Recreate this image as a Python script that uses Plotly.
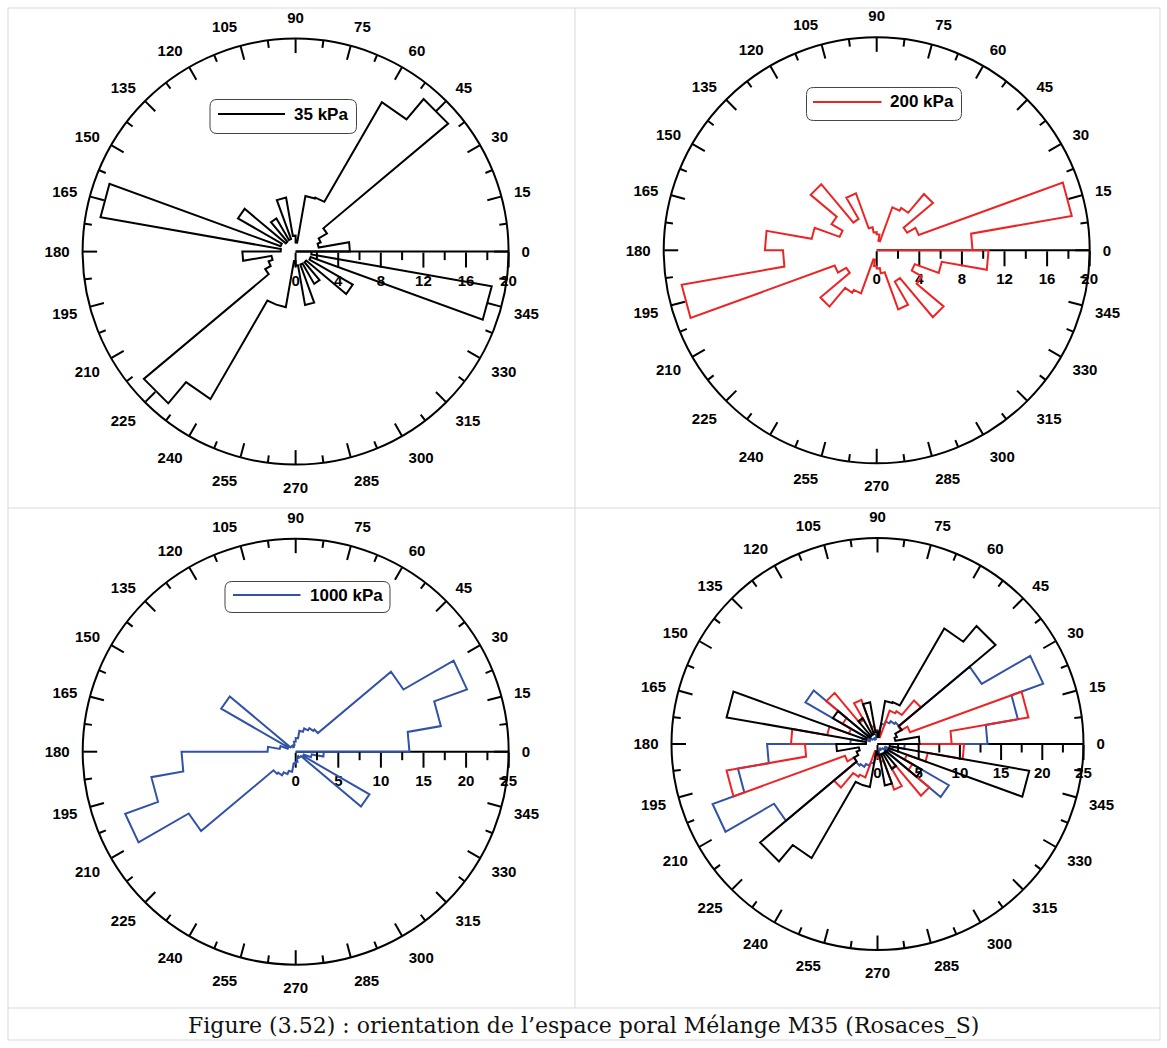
import plotly.graph_objects as go

# ---------------- data (bin start angles, 10 deg bins) ----------------
bin_start = list(range(0, 360, 10))
bin_width = 10

p35 = [5.1, 2.2, 2.5, 3.4, 18.7, 16.2, 5.4, 5.3, 0.85, 1.5, 5.15, 1.25, 3.6, 1.2, 6.25, 1.5, 18.6, 1.4,
       5.0, 2.3, 2.7, 3.3, 18.6, 16.0, 5.3, 5.3, 0.9, 1.3, 5.1, 1.3, 3.5, 1.3, 6.2, 1.5, 18.7, 1.5]
p200 = [9.0, 18.6, 4.2, 3.3, 6.9, 4.6, 4.3, 0.9, 1.5, 1.7, 2.2, 5.7, 3.4, 8.1, 4.9, 3.7, 6.2, 10.5,
        8.8, 18.6, 4.2, 3.3, 6.9, 4.6, 4.3, 0.9, 1.5, 1.7, 2.2, 5.9, 3.4, 8.2, 4.9, 3.8, 6.2, 10.5]
p1000 = [13.35, 17.3, 21.4, 14.6, 3.4, 3.2, 2.9, 2.5, 1.6, 1.2, 0.8, 0.6, 0.8, 0.8, 10.1, 1.0, 1.9, 3.3,
         13.4, 17.2, 21.3, 14.5, 3.4, 3.2, 2.8, 2.4, 1.4, 1.2, 0.8, 0.6, 0.8, 0.8, 10.0, 1.0, 1.9, 3.3]

series_names = ["35 kPa", "200 kPa", "1000 kPa"]
series_colors = ["#000000", "#ee2424", "#3152a6"]

ang_major = list(range(0, 360, 15))
ang_minor = [a + 7.5 for a in range(0, 360, 15)]
r_major_20 = [0, 4, 8, 12, 16, 20]
r_minor_20 = [2, 6, 10, 14, 18]
r_major_25 = [0, 5, 10, 15, 20, 25]
r_minor_25 = [2.5, 7.5, 12.5, 17.5, 22.5]

caption = "Figure (3.52) : orientation de l\u2019espace poral M\u00e9lange M35 (Rosaces_S)"

# ---------------- helpers ----------------
W, H = 1167, 1048


def px(x):
    return x / W


def py(y):
    return (H - y) / H


def rose_outline(values):
    theta, r = [0], [0]
    for start, v in zip(bin_start, values):
        theta += [start, start + bin_width]
        r += [v, v]
    theta.append(360)
    r.append(0)
    return theta, r


TICKFONT = dict(family="Liberation Sans, Arial, sans-serif", size=15, color="black", weight="bold")
CLEAR = "rgba(0,0,0,0)"


def domain(cx, cy, R):
    return dict(x=[px(cx - R), px(cx + R)], y=[py(cy + R), py(cy - R)])


def main_polar(dom, rmax, rmaj):
    # carries the traces, the axis lines and all tick labels
    return dict(
        domain=dom, bgcolor=CLEAR,
        angularaxis=dict(rotation=0, direction="counterclockwise", tickmode="array",
                         tickvals=ang_major, ticktext=[str(a) for a in ang_major],
                         ticks="outside", ticklen=9, tickwidth=1, tickcolor=CLEAR,
                         showline=True, linewidth=2, linecolor="black", showgrid=False,
                         layer="below traces", tickfont=TICKFONT),
        radialaxis=dict(range=[0, rmax], angle=0, side="clockwise", tickmode="array",
                        tickvals=rmaj, ticktext=[str(v) for v in rmaj],
                        ticks="outside", ticklen=15, tickwidth=2, tickcolor="black",
                        showline=True, linewidth=2, linecolor="black", showgrid=False,
                        layer="below traces", tickfont=TICKFONT, tickangle=0),
    )


def tick_polar(dom, rmax, angvals, anglen, rvals, rlen):
    # overlay used only for inward angular ticks and extra radial ticks
    return dict(
        domain=dom, bgcolor=CLEAR,
        angularaxis=dict(rotation=0, direction="counterclockwise", tickmode="array",
                         tickvals=angvals, ticktext=["" for _ in angvals],
                         ticks="inside", ticklen=anglen, tickwidth=2,
                         tickcolor="black", showline=False, showgrid=False, showticklabels=False),
        radialaxis=dict(range=[0, rmax], angle=0, side="clockwise", tickmode="array",
                        tickvals=rvals if rvals else [0], ticktext=["" for _ in (rvals if rvals else [0])],
                        ticks="outside", ticklen=rlen, tickwidth=2,
                        tickcolor="black" if rvals else CLEAR,
                        showline=False, showgrid=False, showticklabels=False),
    )


panels = [
    dict(cx=295.6, cy=251.6, R=213, rmax=20, rmaj=r_major_20, rmin=r_minor_20, series=[0]),
    dict(cx=876.7, cy=250.3, R=213, rmax=20, rmaj=r_major_20, rmin=r_minor_20, series=[1]),
    dict(cx=295.7, cy=751.7, R=213, rmax=25, rmaj=r_major_25, rmin=r_minor_25, series=[2]),
    dict(cx=877.5, cy=744.0, R=206, rmax=25, rmaj=r_major_25, rmin=r_minor_25, series=[2, 1, 0]),
]
all_series = [p35, p200, p1000]

fig = go.Figure()
layout = dict(width=W, height=H, margin=dict(l=0, r=0, t=0, b=0),
              paper_bgcolor="white", plot_bgcolor="white", showlegend=False,
              template="none")


def pid(n):
    return "polar" if n == 1 else f"polar{n}"


for i, p in enumerate(panels):
    dom = domain(p["cx"], p["cy"], p["R"])
    main_id, major_id, minor_id = pid(3 * i + 1), pid(3 * i + 2), pid(3 * i + 3)
    layout[main_id] = main_polar(dom, p["rmax"], p["rmaj"])
    layout[major_id] = tick_polar(dom, p["rmax"], ang_major, 14, [], 1)
    layout[minor_id] = tick_polar(dom, p["rmax"], ang_minor, 7, p["rmin"], 8)
    for s in p["series"]:
        th, rr = rose_outline(all_series[s])
        fig.add_trace(go.Scatterpolar(theta=th, r=rr, mode="lines", name=series_names[s],
                                      line=dict(color=series_colors[s], width=2),
                                      subplot=main_id, showlegend=False))
    # empty traces so that the tick-only overlay subplots get drawn
    for sub in (major_id, minor_id):
        fig.add_trace(go.Scatterpolar(theta=[], r=[], mode="lines", subplot=sub,
                                      showlegend=False, hoverinfo="skip"))

fig.update_layout(**layout)

shapes = []
grid = "#d9d9d9"
# panel frame lines
for (x0, y0, x1, y1) in [(8, 8, 1160, 8), (8, 1040, 1160, 1040), (8, 8, 8, 1040), (1160, 8, 1160, 1040),
                         (8, 508, 1160, 508), (8, 1008, 1160, 1008), (575, 8, 575, 1008)]:
    shapes.append(dict(type="line", xref="paper", yref="paper", x0=px(x0), y0=py(y0), x1=px(x1), y1=py(y1),
                       line=dict(color=grid, width=1), layer="below"))


def rounded_rect(x0, y0, x1, y1, rad):
    def P(x, y):
        return f"{px(x):.5f},{py(y):.5f}"
    return (f"M {P(x0 + rad, y0)} L {P(x1 - rad, y0)} Q {P(x1, y0)} {P(x1, y0 + rad)} "
            f"L {P(x1, y1 - rad)} Q {P(x1, y1)} {P(x1 - rad, y1)} L {P(x0 + rad, y1)} "
            f"Q {P(x0, y1)} {P(x0, y1 - rad)} L {P(x0, y0 + rad)} Q {P(x0, y0)} {P(x0 + rad, y0)} Z")


legends = [
    dict(box=(210, 99.5, 356.5, 133.5), line=(218, 285, 114), text_x=292, text_y=114, s=0),
    dict(box=(806.5, 87.5, 961.5, 120.5), line=(813, 881.5, 102), text_x=888, text_y=102, s=1),
    dict(box=(225, 581.5, 390, 612.5), line=(233, 300.5, 595), text_x=308, text_y=595.5, s=2),
]
annotations = []
for lg in legends:
    x0, y0, x1, y1 = lg["box"]
    shapes.append(dict(type="path", xref="paper", yref="paper", path=rounded_rect(x0, y0, x1, y1, 7),
                       line=dict(color="#444444", width=1), fillcolor="white"))
    lx0, lx1, ly = lg["line"]
    shapes.append(dict(type="line", xref="paper", yref="paper", x0=px(lx0), x1=px(lx1), y0=py(ly), y1=py(ly),
                       line=dict(color=series_colors[lg["s"]], width=2)))
    annotations.append(dict(xref="paper", yref="paper", x=px(lg["text_x"]), y=py(lg["text_y"]),
                            xanchor="left", yanchor="middle", showarrow=False, text=series_names[lg["s"]],
                            font=dict(family="Liberation Sans, Arial, sans-serif", size=17, color="black",
                                      weight="bold")))

annotations.append(dict(xref="paper", yref="paper", x=0.5, y=py(1025), xanchor="center", yanchor="middle",
                        showarrow=False, text=caption,
                        font=dict(family="DejaVu Serif, serif", size=22, color="#111111")))

fig.update_layout(shapes=shapes, annotations=annotations)
fig.write_html("out.html", config={"displayModeBar": False},
               post_script="document.body.style.margin='0px';")
